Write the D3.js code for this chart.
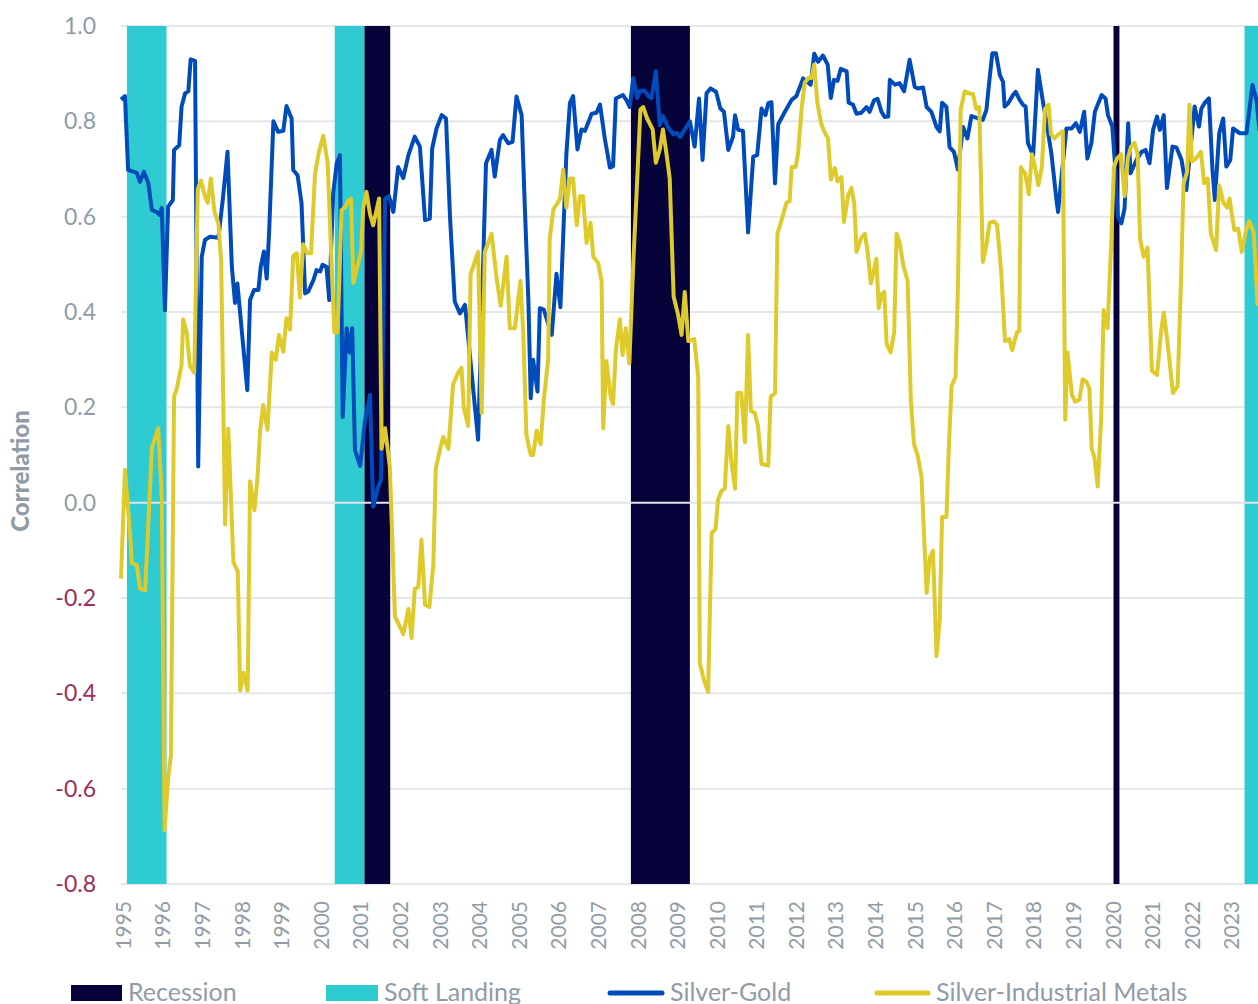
<!DOCTYPE html>
<html>
<head>
<meta charset="utf-8">
<script src="https://cdn.jsdelivr.net/npm/d3@7"></script>
<style>
  body { margin: 0; background: #fff; }
  svg { display: block; font-family: "Source Sans Pro", Lato, "Noto Sans", sans-serif; }
</style>
</head>
<body>
<div id="chart"></div>
<script>
// ---- data (decimal year, correlation) ----
var silverGold = [
  [1995.00,0.846],[1995.10,0.853],[1995.18,0.698],[1995.40,0.692],[1995.48,0.673],[1995.58,0.694],
  [1995.69,0.670],[1995.78,0.614],[1995.90,0.610],[1995.97,0.604],[1996.03,0.618],[1996.11,0.404],
  [1996.19,0.621],[1996.31,0.635],[1996.34,0.740],[1996.47,0.750],[1996.53,0.831],[1996.62,0.859],
  [1996.70,0.863],[1996.76,0.930],[1996.87,0.927],[1996.95,0.076],[1997.04,0.516],[1997.12,0.551],
  [1997.25,0.558],[1997.46,0.556],[1997.57,0.635],[1997.69,0.736],[1997.80,0.495],[1997.88,0.419],
  [1997.94,0.460],[1998.19,0.236],[1998.26,0.425],[1998.36,0.446],[1998.47,0.446],[1998.53,0.495],
  [1998.61,0.527],[1998.68,0.470],[1998.74,0.565],[1998.85,0.800],[1998.97,0.778],[1999.10,0.780],
  [1999.18,0.832],[1999.31,0.806],[1999.35,0.698],[1999.46,0.687],[1999.56,0.628],[1999.65,0.439],
  [1999.73,0.443],[1999.86,0.467],[1999.94,0.488],[2000.03,0.485],[2000.09,0.499],[2000.19,0.495],
  [2000.26,0.425],[2000.36,0.649],[2000.45,0.712],[2000.53,0.729],[2000.60,0.180],[2000.70,0.366],
  [2000.78,0.315],[2000.84,0.366],[2000.91,0.110],[2001.04,0.077],[2001.16,0.170],[2001.29,0.226],
  [2001.37,-0.008],[2001.50,0.034],[2001.57,0.048],[2001.67,0.638],[2001.77,0.643],[2001.88,0.610],
  [2002.00,0.704],[2002.13,0.681],[2002.26,0.729],[2002.42,0.768],[2002.55,0.747],[2002.68,0.593],
  [2002.80,0.596],[2002.86,0.743],[2002.97,0.785],[2003.10,0.813],[2003.21,0.806],[2003.31,0.600],
  [2003.43,0.422],[2003.56,0.397],[2003.69,0.415],[2004.02,0.132],[2004.22,0.712],[2004.36,0.740],
  [2004.44,0.684],[2004.57,0.761],[2004.65,0.771],[2004.78,0.754],[2004.89,0.757],[2004.99,0.852],
  [2005.12,0.813],[2005.20,0.621],[2005.29,0.425],[2005.35,0.219],[2005.41,0.300],[2005.52,0.233],
  [2005.58,0.408],[2005.68,0.405],[2005.88,0.352],[2006.00,0.480],[2006.10,0.410],[2006.25,0.731],
  [2006.34,0.839],[2006.42,0.853],[2006.53,0.741],[2006.63,0.783],[2006.72,0.780],[2006.89,0.816],
  [2007.01,0.818],[2007.10,0.835],[2007.22,0.764],[2007.35,0.703],[2007.43,0.706],[2007.50,0.848],
  [2007.60,0.852],[2007.68,0.855],[2007.77,0.844],[2007.85,0.830],[2007.94,0.891],[2008.04,0.849],
  [2008.11,0.864],[2008.23,0.864],[2008.32,0.853],[2008.40,0.849],[2008.51,0.905],[2008.61,0.792],
  [2008.69,0.811],[2008.82,0.787],[2008.95,0.773],[2009.03,0.776],[2009.12,0.767],[2009.37,0.800],
  [2009.49,0.747],[2009.60,0.848],[2009.69,0.719],[2009.79,0.859],[2009.89,0.869],[2010.03,0.862],
  [2010.14,0.827],[2010.23,0.820],[2010.34,0.740],[2010.46,0.768],[2010.51,0.813],[2010.59,0.782],
  [2010.71,0.780],[2010.84,0.567],[2010.97,0.726],[2011.07,0.729],[2011.18,0.827],[2011.28,0.813],
  [2011.35,0.838],[2011.43,0.840],[2011.52,0.670],[2011.60,0.794],[2011.77,0.820],[2011.94,0.845],
  [2012.06,0.853],[2012.23,0.890],[2012.36,0.881],[2012.42,0.877],[2012.51,0.942],[2012.61,0.925],
  [2012.73,0.938],[2012.85,0.919],[2012.93,0.849],[2013.01,0.887],[2013.10,0.885],[2013.18,0.910],
  [2013.33,0.905],[2013.38,0.839],[2013.49,0.835],[2013.58,0.816],[2013.70,0.818],[2013.83,0.830],
  [2013.91,0.820],[2014.02,0.844],[2014.11,0.847],[2014.21,0.820],[2014.29,0.809],[2014.38,0.810],
  [2014.42,0.887],[2014.55,0.877],[2014.67,0.880],[2014.78,0.863],[2014.92,0.929],[2015.05,0.872],
  [2015.13,0.869],[2015.26,0.871],[2015.35,0.830],[2015.47,0.820],[2015.60,0.788],[2015.68,0.779],
  [2015.74,0.839],[2015.85,0.830],[2015.93,0.746],[2016.04,0.736],[2016.14,0.699],[2016.27,0.788],
  [2016.38,0.764],[2016.48,0.811],[2016.77,0.803],[2016.86,0.824],[2016.94,0.890],[2017.01,0.943],
  [2017.10,0.943],[2017.20,0.897],[2017.28,0.883],[2017.32,0.831],[2017.41,0.838],[2017.53,0.855],
  [2017.60,0.862],[2017.70,0.845],[2017.79,0.834],[2017.85,0.831],[2017.91,0.754],[2018.04,0.729],
  [2018.16,0.908],[2018.28,0.845],[2018.38,0.796],[2018.50,0.733],[2018.63,0.635],[2018.67,0.610],
  [2018.88,0.785],[2019.01,0.785],[2019.12,0.796],[2019.22,0.778],[2019.33,0.820],[2019.41,0.722],
  [2019.51,0.754],[2019.60,0.820],[2019.77,0.855],[2019.87,0.848],[2019.93,0.813],[2020.04,0.789],
  [2020.10,0.719],[2020.18,0.600],[2020.27,0.586],[2020.35,0.618],[2020.44,0.796],[2020.50,0.691],
  [2020.65,0.719],[2020.78,0.736],[2020.88,0.740],[2020.98,0.712],[2021.07,0.782],[2021.17,0.810],
  [2021.24,0.782],[2021.34,0.813],[2021.42,0.660],[2021.56,0.747],[2021.66,0.745],[2021.79,0.719],
  [2021.91,0.656],[2022.12,0.831],[2022.23,0.789],[2022.29,0.827],[2022.37,0.838],[2022.48,0.848],
  [2022.57,0.698],[2022.63,0.635],[2022.74,0.775],[2022.84,0.806],[2022.92,0.705],[2023.02,0.719],
  [2023.09,0.785],[2023.26,0.775],[2023.43,0.775],[2023.58,0.876],[2023.68,0.845],[2023.76,0.780]
];

var silverIndustrial = [
  [1995.00,-0.159],[1995.10,0.069],[1995.24,-0.078],[1995.27,-0.127],[1995.40,-0.131],[1995.48,-0.180],
  [1995.61,-0.184],[1995.78,0.114],[1995.94,0.156],[1996.03,0.013],[1996.10,-0.687],[1996.19,-0.580],
  [1996.26,-0.530],[1996.34,0.222],[1996.41,0.240],[1996.53,0.289],[1996.57,0.385],[1996.66,0.357],
  [1996.74,0.287],[1996.85,0.273],[1996.94,0.658],[1997.02,0.676],[1997.12,0.643],[1997.19,0.629],
  [1997.27,0.680],[1997.36,0.610],[1997.46,0.586],[1997.53,0.506],[1997.63,-0.046],[1997.71,0.155],
  [1997.84,-0.125],[1997.95,-0.144],[1998.01,-0.394],[1998.09,-0.357],[1998.20,-0.394],[1998.26,0.045],
  [1998.37,-0.016],[1998.45,0.054],[1998.51,0.148],[1998.59,0.205],[1998.70,0.153],[1998.81,0.315],
  [1998.91,0.300],[1998.99,0.352],[1999.10,0.317],[1999.18,0.387],[1999.27,0.363],[1999.35,0.518],
  [1999.44,0.523],[1999.52,0.430],[1999.60,0.542],[1999.71,0.523],[1999.80,0.523],[1999.90,0.689],
  [2000.00,0.736],[2000.11,0.770],[2000.22,0.713],[2000.32,0.500],[2000.39,0.357],[2000.47,0.357],
  [2000.57,0.614],[2000.66,0.620],[2000.74,0.633],[2000.81,0.638],[2000.87,0.461],[2001.06,0.526],
  [2001.12,0.619],[2001.20,0.652],[2001.29,0.605],[2001.37,0.582],[2001.52,0.638],[2001.58,0.113],
  [2001.67,0.156],[2001.79,0.076],[2001.92,-0.239],[2002.05,-0.261],[2002.13,-0.276],[2002.26,-0.223],
  [2002.34,-0.284],[2002.42,-0.181],[2002.51,-0.177],[2002.59,-0.078],[2002.68,-0.214],[2002.79,-0.219],
  [2002.89,-0.130],[2002.95,0.071],[2003.06,0.113],[2003.14,0.138],[2003.27,0.113],[2003.39,0.249],
  [2003.52,0.273],[2003.60,0.283],[2003.66,0.199],[2003.77,0.161],[2003.83,0.479],[2004.02,0.526],
  [2004.11,0.188],[2004.19,0.526],[2004.36,0.564],[2004.49,0.469],[2004.59,0.413],[2004.74,0.516],
  [2004.82,0.366],[2004.95,0.366],[2005.09,0.465],[2005.16,0.357],[2005.24,0.142],[2005.35,0.100],
  [2005.41,0.100],[2005.50,0.151],[2005.60,0.123],[2005.68,0.216],[2005.79,0.301],[2005.83,0.554],
  [2005.92,0.615],[2006.00,0.625],[2006.09,0.638],[2006.17,0.699],[2006.25,0.619],[2006.34,0.680],
  [2006.42,0.680],[2006.51,0.582],[2006.59,0.643],[2006.67,0.643],[2006.76,0.545],[2006.86,0.587],
  [2006.93,0.516],[2007.05,0.503],[2007.14,0.465],[2007.18,0.156],[2007.26,0.297],[2007.37,0.222],
  [2007.43,0.207],[2007.50,0.320],[2007.60,0.385],[2007.67,0.310],[2007.75,0.366],[2007.84,0.292],
  [2007.94,0.503],[2008.04,0.680],[2008.12,0.825],[2008.19,0.830],[2008.29,0.806],[2008.43,0.783],
  [2008.51,0.713],[2008.61,0.741],[2008.69,0.783],[2008.78,0.731],[2008.86,0.680],[2008.96,0.432],
  [2009.07,0.395],[2009.16,0.352],[2009.24,0.442],[2009.33,0.339],[2009.48,0.343],[2009.58,0.264],
  [2009.62,-0.337],[2009.73,-0.374],[2009.83,-0.397],[2009.92,-0.064],[2010.02,-0.055],[2010.08,0.006],
  [2010.17,0.025],[2010.25,0.029],[2010.34,0.161],[2010.42,0.085],[2010.51,0.029],[2010.57,0.230],
  [2010.67,0.230],[2010.76,0.127],[2010.84,0.352],[2010.91,0.193],[2011.01,0.188],[2011.09,0.161],
  [2011.18,0.081],[2011.35,0.078],[2011.41,0.222],[2011.52,0.230],[2011.58,0.564],[2011.68,0.591],
  [2011.81,0.629],[2011.89,0.633],[2011.94,0.704],[2012.04,0.704],[2012.10,0.731],[2012.19,0.825],
  [2012.27,0.881],[2012.36,0.891],[2012.44,0.891],[2012.51,0.919],[2012.59,0.839],[2012.68,0.797],
  [2012.76,0.779],[2012.86,0.764],[2012.93,0.678],[2013.03,0.702],[2013.10,0.674],[2013.20,0.683],
  [2013.26,0.589],[2013.37,0.646],[2013.45,0.660],[2013.52,0.629],[2013.58,0.526],[2013.69,0.554],
  [2013.79,0.564],[2013.86,0.526],[2013.94,0.460],[2014.02,0.488],[2014.08,0.512],[2014.14,0.408],
  [2014.21,0.437],[2014.28,0.442],[2014.34,0.333],[2014.44,0.315],[2014.53,0.357],[2014.59,0.564],
  [2014.67,0.545],[2014.76,0.498],[2014.87,0.465],[2014.95,0.216],[2015.03,0.123],[2015.12,0.100],
  [2015.22,0.054],[2015.35,-0.189],[2015.43,-0.115],[2015.51,-0.101],[2015.60,-0.322],[2015.68,-0.246],
  [2015.74,-0.030],[2015.85,-0.030],[2015.91,0.113],[2015.98,0.245],[2016.08,0.264],[2016.14,0.450],
  [2016.21,0.825],[2016.31,0.863],[2016.44,0.858],[2016.52,0.858],[2016.60,0.826],[2016.68,0.830],
  [2016.77,0.505],[2016.85,0.535],[2016.94,0.587],[2017.05,0.590],[2017.13,0.583],[2017.23,0.488],
  [2017.33,0.339],[2017.44,0.343],[2017.51,0.320],[2017.63,0.357],[2017.69,0.360],[2017.73,0.704],
  [2017.84,0.690],[2017.93,0.647],[2018.01,0.731],[2018.10,0.699],[2018.17,0.666],[2018.26,0.704],
  [2018.34,0.826],[2018.43,0.835],[2018.49,0.773],[2018.58,0.764],[2018.68,0.773],[2018.79,0.779],
  [2018.85,0.174],[2018.91,0.315],[2019.02,0.226],[2019.10,0.212],[2019.21,0.216],[2019.29,0.259],
  [2019.38,0.254],[2019.46,0.240],[2019.52,0.113],[2019.59,0.095],[2019.67,0.034],[2019.76,0.179],
  [2019.82,0.404],[2019.92,0.366],[2020.01,0.540],[2020.08,0.704],[2020.16,0.722],[2020.26,0.731],
  [2020.35,0.643],[2020.43,0.722],[2020.51,0.746],[2020.60,0.755],[2020.68,0.731],[2020.74,0.554],
  [2020.83,0.516],[2020.93,0.535],[2021.04,0.277],[2021.17,0.268],[2021.27,0.357],[2021.34,0.399],
  [2021.44,0.333],[2021.57,0.230],[2021.69,0.245],[2021.78,0.479],[2021.84,0.670],[2021.93,0.694],
  [2021.99,0.835],[2022.05,0.716],[2022.15,0.722],[2022.28,0.736],[2022.36,0.670],[2022.45,0.680],
  [2022.53,0.564],[2022.66,0.530],[2022.74,0.666],[2022.85,0.629],[2022.94,0.619],[2023.00,0.638],
  [2023.12,0.572],[2023.22,0.575],[2023.31,0.526],[2023.42,0.572],[2023.50,0.591],[2023.61,0.568],
  [2023.71,0.413]
];

var recessions = [[2001.15, 2001.80], [2007.88, 2009.37], [2020.07, 2020.22]];
var softLandings = [[1995.15, 1996.15], [2000.40, 2001.15], [2023.38, 2023.80]];

var years = d3.range(1995, 2024);
var yTicks = [-0.8, -0.6, -0.4, -0.2, 0.0, 0.2, 0.4, 0.6, 0.8, 1.0];

// ---- layout ----
var width = 1258, height = 1004;
var plot = { left: 121, right: 1258, top: 26, bottom: 884 };

var colours = {
  recession: '#06033a',
  soft: '#2ecbd2',
  gold: '#004bbc',
  industrial: '#dfca2b',
  grid: '#e6e6e8',
  label: '#8f9ca8',
  negative: '#9b2d60'
};

var svg = d3.select('#chart').append('svg')
  .attr('width', width)
  .attr('height', height);

var xScale = d3.scaleLinear()
  .domain([1995, 2023.72])
  .range([plot.left, plot.right]);

var yScale = d3.scaleLinear()
  .domain([-0.8, 1.0])
  .range([plot.bottom, plot.top]);

// gridlines
svg.append('g').classed('grid', true)
  .selectAll('line')
  .data(yTicks)
  .enter()
  .append('line')
  .attr('x1', plot.left)
  .attr('x2', plot.right)
  .attr('y1', d => yScale(d))
  .attr('y2', d => yScale(d))
  .style('stroke', colours.grid)
  .style('stroke-width', 2);

// shaded bands
var bands = svg.append('g').classed('bands', true);

bands.selectAll('.soft')
  .data(softLandings)
  .enter()
  .append('rect')
  .attr('x', d => xScale(d[0]))
  .attr('width', d => xScale(d[1]) - xScale(d[0]))
  .attr('y', plot.top)
  .attr('height', plot.bottom - plot.top)
  .style('fill', colours.soft);

bands.selectAll('.rec')
  .data(recessions)
  .enter()
  .append('rect')
  .attr('x', d => xScale(d[0]))
  .attr('width', d => xScale(d[1]) - xScale(d[0]))
  .attr('y', plot.top)
  .attr('height', plot.bottom - plot.top)
  .style('fill', colours.recession);

// zero line sits over the bands
svg.append('line')
  .attr('x1', plot.left)
  .attr('x2', plot.right)
  .attr('y1', yScale(0))
  .attr('y2', yScale(0))
  .style('stroke', '#e4e4ea')
  .style('stroke-width', 2);

// y axis (plain hyphen for negatives, like the original)
var yFormat = d => d3.format('.1f')(d).replace('\u2212', '-');

var yAxis = svg.append('g')
  .classed('y axis', true)
  .attr('transform', 'translate(96,0)')
  .call(d3.axisLeft(yScale).tickValues(yTicks).tickSize(0).tickPadding(0).tickFormat(yFormat));

yAxis.select('.domain').remove();
yAxis.selectAll('.tick text')
  .style('font-family', 'Lato, sans-serif')
  .style('font-size', '23px')
  .style('fill', d => d < 0 ? colours.negative : colours.label);

svg.append('text')
  .attr('transform', 'translate(29,' + ((plot.top + plot.bottom) / 2 + 16) + ') rotate(-90)')
  .attr('text-anchor', 'middle')
  .style('font-family', 'Lato, sans-serif')
  .style('font-weight', '900')
  .style('font-size', '24px')
  .style('fill', colours.label)
  .text('Correlation');

// x axis
var xAxis = svg.append('g')
  .classed('x axis', true)
  .attr('transform', 'translate(0,' + plot.bottom + ')')
  .call(d3.axisBottom(xScale).tickValues(years).tickSize(0).tickFormat(d3.format('d')));

xAxis.select('.domain').remove();
xAxis.selectAll('.tick text')
  .attr('transform', 'rotate(-90)')
  .attr('x', -17)
  .attr('y', 2)
  .attr('dy', '0.35em')
  .attr('text-anchor', 'end')
  .style('font-family', 'Lato, sans-serif')
  .style('font-size', '21px')
  .style('fill', colours.label);

// lines
var line = d3.line()
  .x(d => xScale(d[0]))
  .y(d => yScale(d[1]));

var dataLayer = svg.append('g').classed('data-layer', true);

dataLayer.append('path')
  .datum(silverGold)
  .attr('d', line)
  .style('fill', 'none')
  .style('stroke', colours.gold)
  .style('stroke-width', 4)
  .style('stroke-linejoin', 'round');

dataLayer.append('path')
  .datum(silverIndustrial)
  .attr('d', line)
  .style('fill', 'none')
  .style('stroke', colours.industrial)
  .style('stroke-width', 4)
  .style('stroke-linejoin', 'round');

// legend
var legendItems = [
  { label: 'Recession', type: 'rect', colour: colours.recession, x: 71, w: 51 },
  { label: 'Soft Landing', type: 'rect', colour: colours.soft, x: 326, w: 52 },
  { label: 'Silver-Gold', type: 'line', colour: colours.gold, x: 608, w: 56 },
  { label: 'Silver-Industrial Metals', type: 'line', colour: colours.industrial, x: 875, w: 55 }
];

var legend = svg.append('g').classed('legend', true);

legendItems.forEach(function(d) {
  if (d.type === 'rect') {
    legend.append('rect')
      .attr('x', d.x).attr('y', 985)
      .attr('width', d.w).attr('height', 16)
      .style('fill', d.colour);
  } else {
    legend.append('line')
      .attr('x1', d.x + 2).attr('x2', d.x + d.w - 2)
      .attr('y1', 993).attr('y2', 993)
      .style('stroke', d.colour)
      .style('stroke-width', 5)
      .style('stroke-linecap', 'round');
  }
  legend.append('text')
    .attr('x', d.x + d.w + 6)
    .attr('y', 1001)
    .style('font-family', 'Lato, sans-serif')
    .style('font-size', '25px')
    .style('fill', colours.label)
    .text(d.label);
});
</script>
</body>
</html>
